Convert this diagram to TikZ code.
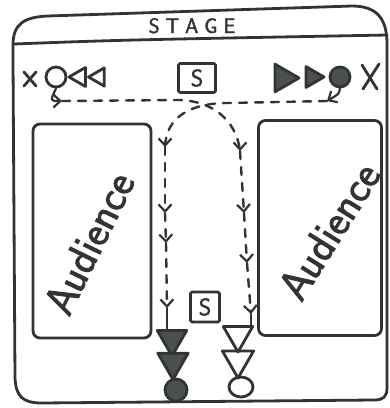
\documentclass[tikz,border=0pt]{standalone}
\usepackage{fontspec}
\usetikzlibrary{arrows.meta,shapes.geometric}

\definecolor{ink}{RGB}{50,52,50}
\definecolor{inkfill}{RGB}{74,80,76}

% slightly heavier sans, closer to a felt-pen hand
\newfontfamily\penfont{Latin Modern Sans}[FakeBold=2]

\tikzset{
  ink/.style={draw=ink,line width=2.8pt,line cap=round,line join=round},
  route/.style={ink,line width=2.4pt,dash pattern=on 8pt off 8pt},
  tip/.style={-{Straight Barb[length=7pt,width=13pt,line width=2.2pt]}},
  seat/.style={ink,rounded corners=7pt},
  signbox/.style={ink,rounded corners=1.5pt,inner sep=0pt,text=ink,
    font=\penfont\fontsize{24}{24}\selectfont},
  crowd/.style={font=\penfont\fontsize{43}{43}\selectfont,text=ink,inner sep=0pt},
  hollowtri/.style={regular polygon,regular polygon sides=3,ink,inner sep=0pt},
  filledtri/.style={hollowtri,fill=inkfill},
  hollowdot/.style={circle,ink,inner sep=0pt},
  filleddot/.style={hollowdot,fill=inkfill},
}

\begin{document}
\begin{tikzpicture}[x=1pt,y=-1pt]
\useasboundingbox (0,0) rectangle (390,408);

% outer frame of the hall
\draw[ink] (13,60) -- (13,45) .. controls (13,24) and (24,17) .. (48,16)
  -- (200,11) -- (352,6) .. controls (378,6) and (387,20) .. (387,44)
  -- (387,388) .. controls (387,397) and (383,400) .. (374,400)
  -- (42,403) .. controls (22,403) and (16,396) .. (15,378) -- cycle;

% stage edge and title
\draw[ink] (14,44) .. controls (120,40) .. (387,35);
\node[font=\penfont\fontsize{21}{21}\selectfont,text=ink,inner sep=0pt,anchor=base]
  (title) at (192,33) {S\hspace{6pt}T\hspace{6pt}A\hspace{6pt}G\hspace{6pt}E};

% stage manager boxes
\node[signbox,minimum width=37pt,minimum height=29pt] (stop) at (197,78) {S};
\node[signbox,minimum width=29pt,minimum height=30pt] (sbot) at (205,307) {S};

% audience blocks
\node[seat,minimum width=118pt,minimum height=214pt] (audL) at (92,231) {};
\node[seat,minimum width=123pt,minimum height=215pt] (audR) at (320,228) {};
\node[crowd,rotate=64] (audLtext) at (89,243) {Audience};
\node[crowd,rotate=58] (audRtext) at (329,231) {Audience};

% performers waiting on the left (hollow)
\draw[ink] (24,72) -- (36,86) (24,86) -- (36,72);
\node[hollowdot,minimum size=20pt] (hc) at (56,77) {};
\node[hollowtri,shape border rotate=90,minimum size=22pt] (ht1) at (80,77) {};
\node[hollowtri,shape border rotate=90,minimum size=21pt] (ht2) at (99,77) {};

% performers waiting on the right (filled)
\node[filledtri,shape border rotate=-90,minimum size=32pt] (ft1) at (283,78) {};
\node[filledtri,shape border rotate=-90,minimum size=24pt] (ft2) at (312,77) {};
\node[filleddot,minimum size=20pt] (fc) at (340,77) {};
\draw[ink] (362,65) -- (377,89) (379,64) -- (363,89);

% performers in line at the front (filled, left column)
\node[filledtri,shape border rotate=180,minimum size=34pt] (fb1) at (172,339) {};
\node[filledtri,shape border rotate=180,minimum size=35pt] (fb2) at (173,362) {};
\node[filleddot,minimum size=22pt] (fb3) at (176,390) {};

% performers in line at the front (hollow, right column)
\node[hollowtri,shape border rotate=180,minimum size=34pt] (hb1) at (238,335) {};
\node[hollowtri,shape border rotate=180,minimum size=36pt] (hb2) at (238,360) {};
\node[hollowdot,minimum width=24pt,minimum height=20pt,ellipse] (hb3) at (241,387) {};

% route of the filled performers
\coordinate (f0) at (327,101);
\coordinate (f1) at (165,147);
\coordinate (f2) at (165,213);
\coordinate (f3) at (166,243);
\coordinate (f4) at (167,308);
\draw[ink,line width=2.2pt,tip] (fc.south) .. controls (339,94) .. (f0);
\draw[route] (f0) -- (228,103) .. controls (192,103) and (166,116) .. (f1);
\draw[route,tip] (f1) ++(0,-1) -- (f1);
\draw[route,tip] (f1) -- (f2);
\draw[route,tip] (f2) -- (f3);
\draw[route,tip] (f3) -- (f4);
\draw[ink,line width=2.4pt] (f4) -- (fb1.north -| f4);

% route of the hollow performers
\coordinate (h0) at (62,101);
\coordinate (h1) at (240,151);
\coordinate (h2) at (244,213);
\coordinate (h3) at (247,263);
\coordinate (h4) at (251,314);
\draw[ink,line width=2.2pt,tip] (hc.south) .. controls (50,101) .. (h0);
\draw[route] (h0) -- (180,100) .. controls (210,101) and (236,118) .. (h1);
\draw[route,tip] (h1) ++(0,-1) -- (h1);
\draw[route,tip] (h1) -- (h2);
\draw[route,tip] (h2) -- (h3);
\draw[route,tip] (h3) -- (h4);
\draw[ink,line width=2.4pt] (h4) -- (hb1.north -| h4);
\end{tikzpicture}
\end{document}
